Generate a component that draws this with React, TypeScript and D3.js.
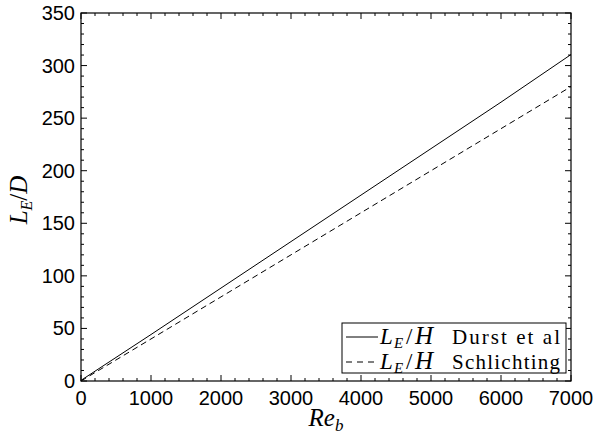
import React, { useEffect, useRef } from "react";
import * as d3 from "d3";

// Reynolds numbers along the x axis
const reValues = [0, 1000, 2000, 3000, 4000, 5000, 6000, 7000];
// L_E/H, Durst et al (solid)
const durstValues = [0.6, 44.2, 88.4, 132.6, 176.8, 221, 265.2, 310.5];
// L_E/H, Schlichting (dashed)
const schlichtingValues = [0, 40, 80, 120, 160, 200, 240, 280];

const xTicks = [0, 1000, 2000, 3000, 4000, 5000, 6000, 7000];
const yTicks = [0, 50, 100, 150, 200, 250, 300, 350];
const legendLabels = ["Durst et al", "Schlichting"];

export default function App() {
  const ref = useRef<SVGSVGElement>(null);

  useEffect(() => {
    const svg = d3.select(ref.current);
    svg.selectAll("*").remove();

    const left = 81, right = 571, top = 13, bottom = 381;
    const x = d3.scaleLinear().domain([0, 7000]).range([left, right]);
    const y = d3.scaleLinear().domain([0, 350]).range([bottom, top]);

    const tickFont = "Liberation Sans, Arial, sans-serif";
    const serif = "Liberation Serif";

    // frame
    svg.append("rect")
      .attr("x", left).attr("y", top)
      .attr("width", right - left).attr("height", bottom - top)
      .attr("fill", "white").attr("stroke", "black").attr("stroke-width", 1.2);

    const g = svg.append("g").attr("stroke", "black").attr("stroke-width", 1);

    // x ticks, bottom and top, inward
    d3.range(0, 7001, 200).forEach((v) => {
      const len = v % 1000 === 0 ? 6 : 3;
      g.append("line").attr("x1", x(v)).attr("x2", x(v)).attr("y1", bottom).attr("y2", bottom - len);
      g.append("line").attr("x1", x(v)).attr("x2", x(v)).attr("y1", top).attr("y2", top + len);
    });
    // y ticks, left and right, inward
    d3.range(0, 351, 10).forEach((v) => {
      const len = v % 50 === 0 ? 6 : 3;
      g.append("line").attr("y1", y(v)).attr("y2", y(v)).attr("x1", left).attr("x2", left + len);
      g.append("line").attr("y1", y(v)).attr("y2", y(v)).attr("x1", right).attr("x2", right - len);
    });

    // tick labels
    svg.append("g").selectAll("text").data(xTicks).join("text")
      .attr("x", (d) => x(d)).attr("y", 405)
      .attr("text-anchor", "middle")
      .attr("font-family", tickFont).attr("font-size", 20)
      .text((d) => d);
    svg.append("g").selectAll("text").data(yTicks).join("text")
      .attr("x", 75).attr("y", (d) => y(d) + 7)
      .attr("text-anchor", "end")
      .attr("font-family", tickFont).attr("font-size", 20)
      .text((d) => d);

    // lines
    const pts = (vals: number[]) => reValues.map((r, i) => [r, vals[i]] as [number, number]);
    const line = d3.line<[number, number]>().x((d) => x(d[0])).y((d) => y(d[1]));
    svg.append("path").datum(pts(durstValues)).attr("d", line)
      .attr("fill", "none").attr("stroke", "black").attr("stroke-width", 1);
    svg.append("path").datum(pts(schlichtingValues)).attr("d", line)
      .attr("fill", "none").attr("stroke", "black").attr("stroke-width", 1)
      .attr("stroke-dasharray", "6,4");

    // axis labels
    const xl = svg.append("text").attr("x", 326).attr("y", 426)
      .attr("text-anchor", "middle").attr("font-family", serif)
      .attr("font-style", "italic").attr("font-size", 25);
    xl.append("tspan").text("Re");
    xl.append("tspan").attr("font-size", 17).attr("dy", 5).text("b");

    const yl = svg.append("text")
      .attr("transform", "translate(27,200) rotate(-90)")
      .attr("text-anchor", "middle").attr("font-family", serif)
      .attr("font-style", "italic").attr("font-size", 25);
    yl.append("tspan").text("L");
    yl.append("tspan").attr("font-size", 16).attr("dy", 5).text("E");
    yl.append("tspan").attr("dy", -5).attr("font-style", "normal").text("/");
    yl.append("tspan").text("D");

    // legend
    const lg = svg.append("g");
    lg.append("rect").attr("x", 342).attr("y", 323).attr("width", 224).attr("height", 50)
      .attr("fill", "white").attr("stroke", "black").attr("stroke-width", 1);
    const dashes = [null, "6,5"];
    legendLabels.forEach((label, i) => {
      const yy = 337 + i * 25;
      lg.append("line").attr("x1", 346).attr("x2", 378).attr("y1", yy).attr("y2", yy)
        .attr("stroke", "black").attr("stroke-width", 1)
        .attr("stroke-dasharray", dashes[i]);
      const base = yy + 7;
      const t = lg.append("text").attr("font-family", serif).attr("font-size", 23);
      t.append("tspan").attr("x", 380).attr("y", base).attr("font-style", "italic").text("L");
      t.append("tspan").attr("x", 394).attr("y", base + 4).attr("font-style", "italic")
        .attr("font-size", 15).text("E");
      t.append("tspan").attr("x", 406).attr("y", base).text("/");
      t.append("tspan").attr("x", 415).attr("y", base).attr("font-style", "italic")
        .attr("font-size", 25).text("H");
      t.append("tspan").attr("x", 452).attr("y", base).attr("font-size", 21)
        .attr("textLength", 108).attr("lengthAdjust", "spacing").text(label);
    });
  }, []);

  return (
    <div>
      <svg ref={ref} width={597} height={437} style={{ position: "absolute", left: 0, top: 0 }}></svg>
    </div>
  );
}
